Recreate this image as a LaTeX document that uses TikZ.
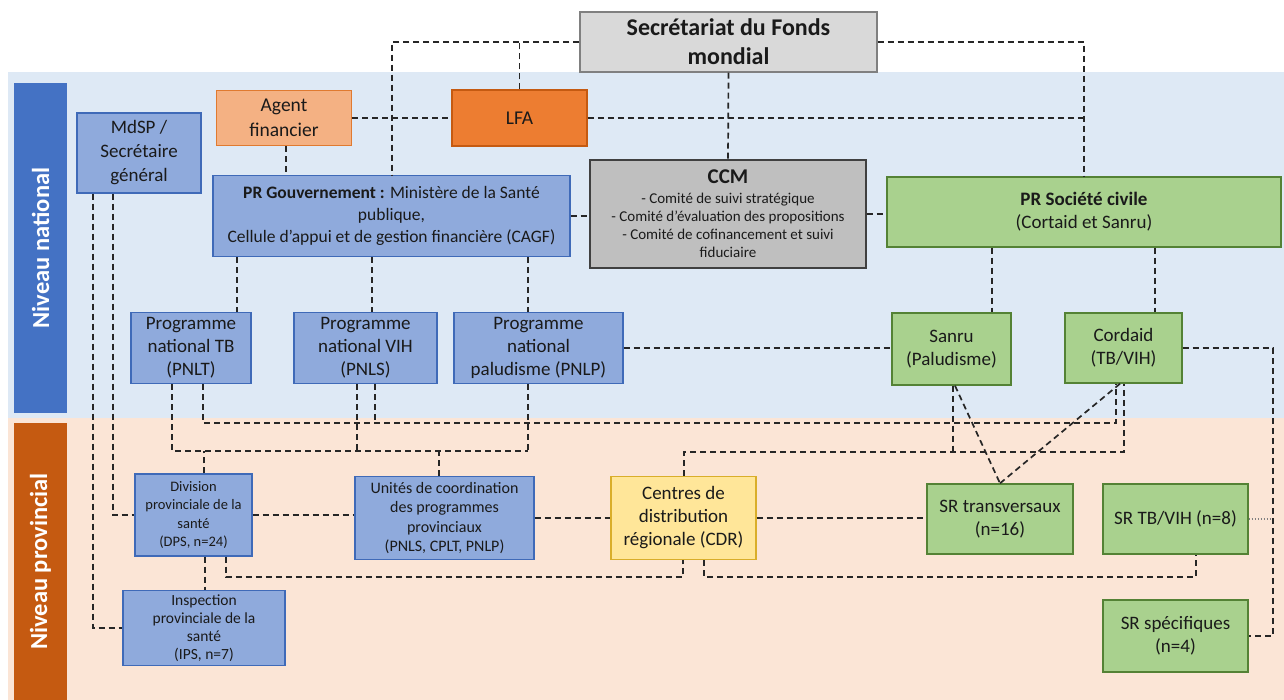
\documentclass[tikz,border=0pt]{standalone}
\usepackage{fontspec}
\setmainfont{Carlito}
\usetikzlibrary{calc}
\definecolor{bandblue}{HTML}{DEE9F5}
\definecolor{bandpeach}{HTML}{FBE5D6}
\definecolor{natblue}{HTML}{4472C4}
\definecolor{provorange}{HTML}{C55A11}
\definecolor{boxblue}{HTML}{8FAADC}
\definecolor{boxbluedraw}{HTML}{3F6AB8}
\definecolor{agentfill}{HTML}{F4B183}
\definecolor{agentdraw}{HTML}{E07A30}
\definecolor{lfafill}{HTML}{ED7D31}
\definecolor{lfadraw}{HTML}{C55A11}
\definecolor{secfill}{HTML}{D9D9D9}
\definecolor{secdraw}{HTML}{808080}
\definecolor{ccmfill}{HTML}{BFBFBF}
\definecolor{ccmdraw}{HTML}{404040}
\definecolor{greenfill}{HTML}{A9D18E}
\definecolor{greendraw}{HTML}{548235}
\definecolor{cdrfill}{HTML}{FFE699}
\definecolor{cdrdraw}{HTML}{D9AE2A}
\definecolor{lineclr}{HTML}{262626}
\definecolor{txt}{HTML}{1A1A1A}
\tikzset{
  base/.style={draw, line width=1.4pt, align=center, inner sep=0pt, text=txt},
  sz/.style 2 args={minimum width=#1, minimum height=#2},
  bluebox/.style={base, fill=boxblue, draw=boxbluedraw},
  greenbox/.style={base, fill=greenfill, draw=greendraw},
  conn/.style={draw=lineclr, line width=1.7pt, dash pattern=on 6pt off 4pt},
  dotconn/.style={draw=gray, line width=1.2pt, dash pattern=on 1.5pt off 1.5pt},
  fbig/.style={font=\fontsize{19}{23}\selectfont},
  fmid/.style={font=\fontsize{17.5}{22}\selectfont},
  fsmall/.style={font=\fontsize{14.5}{18.5}\selectfont},
  bar/.style={rotate=90, text=white, inner sep=0pt, font=\fontsize{24.5}{28}\selectfont\bfseries},
}
\begin{document}
\begin{tikzpicture}[x=1pt,y=-1pt]
\useasboundingbox (0,0) rectangle (1284,700);
% bands
\fill[bandblue] (8,72) rectangle (1284,418);
\fill[bandpeach] (8,418) rectangle (1284,700);
\node[bar, fill=natblue, minimum width=330, minimum height=53] (natbar) at (40.5,248) {Niveau national};
\node[bar, fill=provorange, minimum width=277, minimum height=53] (provbar) at (40.5,561.5) {Niveau provincial};

% nodes
\node[base, fill=secfill, draw=secdraw, sz={297}{60}, font=\fontsize{24}{29}\selectfont\bfseries] (sec) at (728.5,42) {Secrétariat du Fonds\\mondial};
\node[base, fill=agentfill, draw=agentdraw, sz={135}{55}, font=\fontsize{19.5}{25}\selectfont] (agent) at (284,118) {Agent\\financier};
\node[base, fill=lfafill, draw=lfadraw, sz={135}{56}, font=\fontsize{19.5}{25}\selectfont] (lfa) at (519.5,118) {LFA};
\node[bluebox, sz={124}{80}, font=\fontsize{19}{24}\selectfont] (mdsp) at (139,153) {MdSP /\\Secrétaire\\général};
\node[bluebox, sz={357}{81}, fmid] (pgov) at (391.5,216) {\textbf{PR Gouvernement :} Ministère de la Santé\\publique,\\Cellule d’appui et de gestion financière (CAGF)};
\node[base, fill=ccmfill, draw=ccmdraw, sz={276}{108}, font=\fontsize{15}{18}\selectfont] (ccm) at (728,214) {\fontsize{21}{24}\selectfont\bfseries CCM\\[2pt]\fontsize{15}{18}\selectfont\mdseries - Comité de suivi stratégique\\- Comité d'évaluation des propositions\\- Comité de cofinancement et suivi\\fiduciaire};
\node[greenbox, sz={394}{70}, font=\fontsize{19}{23}\selectfont] (psc) at (1084,212) {\textbf{PR Société civile}\\(Cortaid et Sanru)};

\node[bluebox, sz={120}{71}, fbig] (pnlt) at (191,348) {Programme\\national TB\\(PNLT)};
\node[bluebox, sz={143}{71}, fbig] (pnls) at (365.5,348) {Programme\\national VIH\\(PNLS)};
\node[bluebox, sz={169}{71}, fbig] (pnlp) at (538.5,348) {Programme\\national\\paludisme (PNLP)};
\node[greenbox, sz={119}{72}, fbig] (sanru) at (951.5,349) {Sanru\\(Paludisme)};
\node[greenbox, sz={117}{70}, fbig] (cordaid) at (1123.5,348) {Cordaid\\(TB/VIH)};

\node[bluebox, sz={117}{82}, fsmall] (dps) at (193.5,515) {Division\\provinciale de la\\santé\\(DPS, n=24)};
\node[bluebox, sz={179}{83}, font=\fontsize{16}{19.5}\selectfont] (ucp) at (444.5,518) {Unités de coordination\\des programmes\\provinciaux\\(PNLS, CPLT, PNLP)};
\node[base, fill=cdrfill, draw=cdrdraw, sz={145}{83}, fbig] (cdr) at (683.5,518) {Centres de\\distribution\\régionale (CDR)};
\node[greenbox, sz={146}{70}, fbig] (srt) at (1000,519) {SR transversaux\\(n=16)};
\node[greenbox, sz={145}{70}, fbig] (srtb) at (1175.5,519) {SR TB/VIH (n=8)};
\node[bluebox, sz={162}{75}, font=\fontsize{15.5}{18}\selectfont] (ips) at (204,628) {Inspection\\provinciale de la\\santé\\(IPS, n=7)};
\node[greenbox, sz={145}{72}, fbig] (srs) at (1175.5,636) {SR spécifiques\\(n=4)};

% connectors - top
\draw[conn] (sec.west) -- (sec.west -| 392,0) -- (pgov.north -| 392,0);
\draw[conn] (lfa.north) -- (lfa.north |- sec.west);
\draw[conn] (sec.east) -| (psc.north);
\draw[conn] (sec.south) -- (ccm.north);
\draw[conn] (agent.east) -- (agent.east -| lfa.west);
\draw[conn] (lfa.east) -- (lfa.east -| psc.north);
\draw[conn] (agent.south -| 286,0) -- (pgov.north -| 286,0);
\draw[conn] (pgov.east) -- (pgov.east -| ccm.west);
\draw[conn] (ccm.east) -- (ccm.east -| psc.west);
% PR -> programmes
\draw[conn] (pgov.south -| 237,0) -- (pnlt.north -| 237,0);
\draw[conn] (pgov.south -| 372,0) -- (pnls.north -| 372,0);
\draw[conn] (pgov.south -| 528,0) -- (pnlp.north -| 528,0);
\draw[conn] (psc.south -| 992,0) -- (sanru.north -| 992,0);
\draw[conn] (psc.south -| 1155,0) -- (cordaid.north -| 1155,0);
\draw[conn] (pnlp.east) -- (pnlp.east -| sanru.west);
\draw[conn] (cordaid.east) -- ++(90,0) |- (srs.east);
\draw[dotconn] (srtb.east) -- ++(24,0);
% MdSP
\draw[conn] (mdsp.south -| 93,0) |- (ips.west);
\draw[conn] (mdsp.south -| 113,0) |- (dps.west);
% national -> provincial
\draw[conn] (pnlt.south -| 203,0) -- (203,423) -| (cordaid.south -| 1116,0);
\draw[conn] (pnls.south -| 375,0) -- (375,423);
\draw[conn] (pnlt.south -| 172,0) -- (172,451) -- (528,451);
\draw[conn] (pnlp.south -| 528,0) -- (528,451);
\draw[conn] (pnls.south -| 357,0) -- (357,451);
\draw[conn] (dps.north -| 204,0) -- (204,451);
\draw[conn] (ucp.north -| 439,0) -- (439,451);
\draw[conn] (cdr.north -| 684,0) -- (684,452) -| (cordaid.south -| 1124,0);
\draw[conn] (sanru.south -| 953,0) -- (953,452);
\draw[conn] (sanru.south -| 955,0) -- (srt.north);
\draw[conn] (srt.north) -- (cordaid.south -| 1120,0);
% provincial
\draw[conn] (dps.east) -- (dps.east -| ucp.west);
\draw[conn] (ucp.east) -- (ucp.east -| cdr.west);
\draw[conn] (cdr.east) -- (cdr.east -| srt.west);
\draw[conn] (dps.south -| 205,0) -- (ips.north -| 205,0);
\draw[conn] (dps.south -| 226,0) -- (226,577) -| (cdr.south -| 683,0);
\draw[conn] (cdr.south -| 704,0) -- (704,577) -| (srtb.south -| 1196,0);
\end{tikzpicture}
\end{document}
